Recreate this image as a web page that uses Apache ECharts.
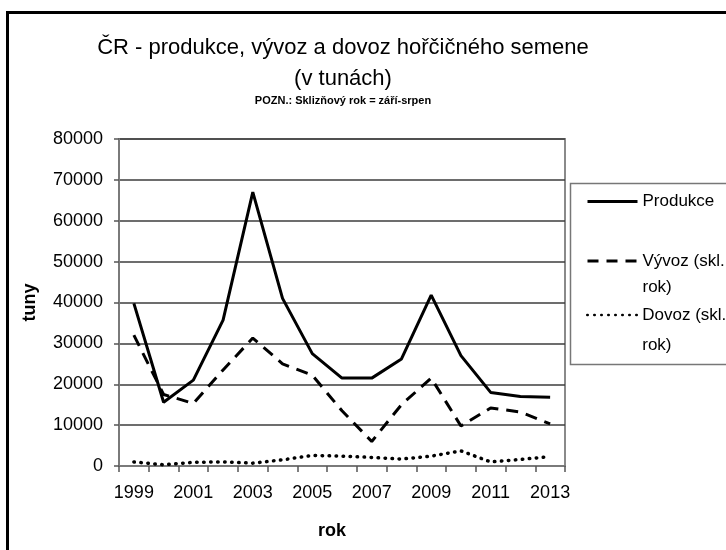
<!DOCTYPE html>
<html>
<head>
<meta charset="utf-8">
<script src="https://cdn.jsdelivr.net/npm/echarts@6/dist/echarts.min.js"></script>
<style>
  html, body { margin: 0; padding: 0; background: #fff; }
  #chart { width: 726px; height: 550px; }
</style>
</head>
<body>
<div id="chart"></div>
<script>
// Harvest years (September–August)
const years = ['1999', '2000', '2001', '2002', '2003', '2004', '2005', '2006',
               '2007', '2008', '2009', '2010', '2011', '2012', '2013'];

// Mustard seed, tonnes
const produkce = [39800, 15600, 21000, 35700, 67000, 41000, 27500, 21500,
                  21500, 26200, 41800, 27000, 18000, 17000, 16800];
const vyvoz    = [32000, 17500, 15300, 23500, 31300, 25000, 22200, 13500,
                  6000, 15000, 21500, 9800, 14200, 13200, 10300];
const dovoz    = [1000, 300, 900, 1000, 700, 1500, 2600, 2400,
                  2100, 1700, 2400, 3700, 1000, 1600, 2300];

const yTicks = { min: 0, max: 80000, step: 10000 };

const FONT = '"Liberation Sans", Arial, sans-serif';

const chart = echarts.init(document.getElementById('chart'), null, { renderer: 'canvas' });

const legendText = {
  fontFamily: FONT,
  fontSize: 17,
  color: '#000'
};
// wrapped legend labels: a blank first line keeps the marker level with "… (skl."
const wrapName = n => ' \n' + n.replace(' rok)', '\nrok)');

chart.setOption({
  backgroundColor: '#fff',
  animation: false,
  title: {
    text: 'ČR - produkce, vývoz a dovoz hořčičného semene\n(v tunách)',
    subtext: 'POZN.: Sklizňový rok = září-srpen',
    left: 343,
    top: 32,
    textAlign: 'center',
    padding: 0,
    itemGap: 0,
    textStyle: {
      fontFamily: FONT,
      fontSize: 22,
      fontWeight: 'normal',
      lineHeight: 31,
      color: '#000'
    },
    subtextStyle: {
      fontFamily: FONT,
      fontSize: 11,
      fontWeight: 'bold',
      lineHeight: 14,
      color: '#000'
    }
  },
  legend: [
    {
      data: ['Produkce'],
      left: 586, top: 193, padding: 0,
      itemWidth: 50, itemHeight: 14,
      itemStyle: { opacity: 0 },
      lineStyle: { width: 3 },
      textStyle: legendText
    },
    {
      data: ['Vývoz (skl. rok)'],
      left: 586, top: 222, padding: 0,
      itemWidth: 50, itemHeight: 14,
      itemStyle: { opacity: 0 },
      lineStyle: { width: 3, type: [11, 8] },
      formatter: wrapName,
      textStyle: Object.assign({}, legendText, { lineHeight: 26 })
    },
    {
      data: ['Dovoz (skl. rok)'],
      left: 586, top: 270, padding: 0,
      itemWidth: 50, itemHeight: 14,
      itemStyle: { opacity: 0 },
      lineStyle: { width: 2.5, type: [0.5, 6.5], cap: 'round' },
      formatter: wrapName,
      textStyle: Object.assign({}, legendText, { lineHeight: 30 })
    }
  ],
  grid: {
    left: 119,
    right: 161,
    top: 139,
    bottom: 84,
    show: true,
    borderColor: '#8a8a8a',
    borderWidth: 2
  },
  xAxis: {
    type: 'category',
    data: years,
    boundaryGap: true,
    name: 'rok',
    nameLocation: 'middle',
    nameGap: 56,
    nameTextStyle: {
      fontFamily: FONT, fontSize: 18, fontWeight: 'bold', color: '#000',
      padding: [0, 20, 0, 0]
    },
    axisLine: { lineStyle: { color: '#7a7a7a', width: 2 } },
    axisTick: { show: true, interval: 0, inside: false, length: 6,
                lineStyle: { color: '#555', width: 1.5 } },
    axisLabel: { interval: 1, margin: 18, fontFamily: FONT, fontSize: 18, color: '#000' },
    splitLine: { show: false }
  },
  yAxis: {
    type: 'value',
    min: yTicks.min,
    max: yTicks.max,
    interval: yTicks.step,
    name: 'tuny',
    nameLocation: 'middle',
    nameGap: 80,
    nameTextStyle: { fontFamily: FONT, fontSize: 18, fontWeight: 'bold', color: '#000' },
    axisLine: { show: true, lineStyle: { color: '#7a7a7a', width: 2 } },
    axisTick: { show: true, inside: false, length: 5, lineStyle: { color: '#555', width: 1.5 } },
    axisLabel: { margin: 16, fontFamily: FONT, fontSize: 18, color: '#000',
                 formatter: v => String(v) },
    splitLine: { show: true, lineStyle: { color: '#3c3c3c', width: 1.5 } }
  },
  series: [
    {
      name: 'Produkce',
      type: 'line',
      data: produkce,
      symbol: 'none',
      lineStyle: { color: '#000', width: 3, type: 'solid' },
      itemStyle: { color: '#000' },
      z: 5
    },
    {
      name: 'Vývoz (skl. rok)',
      type: 'line',
      data: vyvoz,
      symbol: 'none',
      lineStyle: { color: '#000', width: 3, type: [12, 8] },
      itemStyle: { color: '#000' },
      z: 4
    },
    {
      name: 'Dovoz (skl. rok)',
      type: 'line',
      data: dovoz,
      symbol: 'none',
      lineStyle: { color: '#000', width: 3.5, type: [0.5, 6.5], cap: 'round' },
      itemStyle: { color: '#000' },
      z: 3
    }
  ],
  graphic: [
    {
      // outer chart frame
      type: 'rect',
      shape: { x: 7.5, y: 12.5, width: 740, height: 560 },
      style: { fill: 'none', stroke: '#000', lineWidth: 3 },
      silent: true, z: 0
    },
    {
      // legend box
      type: 'rect',
      shape: { x: 570.5, y: 183.5, width: 180, height: 181 },
      style: { fill: 'none', stroke: '#777', lineWidth: 1.5 },
      silent: true, z: 0
    }
  ]
});
</script>
</body>
</html>
